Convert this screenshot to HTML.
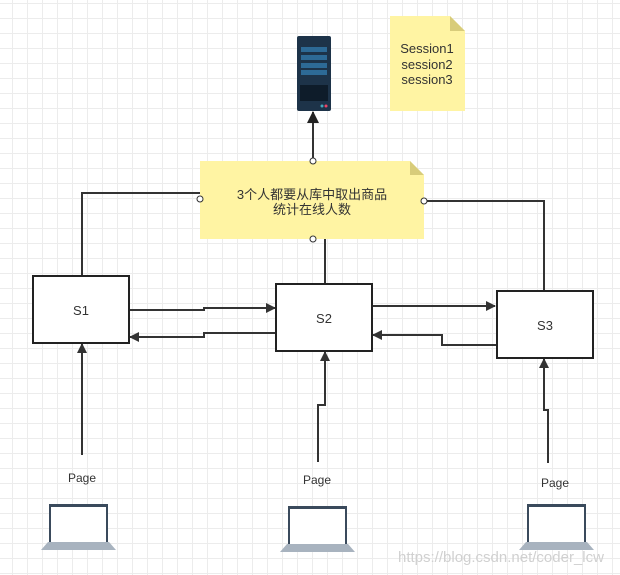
<!DOCTYPE html><html><head><meta charset="utf-8"><style>
body{margin:0;width:620px;height:575px;overflow:hidden;background:#fff;
background-image:linear-gradient(#ececec 1px,transparent 1px),linear-gradient(90deg,#ececec 1px,transparent 1px);background-size:15px 15px;background-position:-3px 3px;}
svg{position:absolute;left:0;top:0}
text{font-family:"Liberation Sans","Noto Sans CJK SC",sans-serif;fill:#333}
</style></head><body>
<svg width="620" height="575" viewBox="0 0 620 575">
<defs><marker id="a" markerWidth="10" markerHeight="10" refX="9" refY="5" orient="auto" markerUnits="userSpaceOnUse"><path d="M0,0L10,5L0,10z" fill="#333"/></marker>
<marker id="b" markerWidth="12" markerHeight="12" refX="11" refY="6" orient="auto" markerUnits="userSpaceOnUse"><path d="M0,0L12,6L0,12z" fill="#222"/></marker></defs>
<g stroke="#333" stroke-width="2" fill="none">
<path d="M313,161V112" marker-end="url(#b)"/>
<path d="M200,193H82V276"/>
<path d="M424,201H544V291"/>
<path d="M325,239V284"/>
<path d="M129,310H204V308H275" marker-end="url(#a)"/>
<path d="M276,333H204V337H130" marker-end="url(#a)"/>
<path d="M372,306H495" marker-end="url(#a)"/>
<path d="M497,345H442V335H373" marker-end="url(#a)"/>
<path d="M82,455V344" marker-end="url(#a)"/>
<path d="M318,462V405H325V352" marker-end="url(#a)"/>
<path d="M548,463V410H544V359" marker-end="url(#a)"/>
</g>
<g fill="#fff" stroke="#222" stroke-width="2">
<rect x="33" y="276" width="96" height="67"/><rect x="276" y="284" width="96" height="67"/><rect x="497" y="291" width="96" height="67"/></g>
<text x="81" y="315" font-size="13" text-anchor="middle">S1</text>
<text x="324" y="323" font-size="13" text-anchor="middle">S2</text>
<text x="545" y="330" font-size="13" text-anchor="middle">S3</text>
<path d="M390,16H450L465,31V111H390z" fill="#fff4a3"/><path d="M450,16V31H465z" fill="#d8cc7a"/>
<text font-size="13" text-anchor="middle"><tspan x="427" y="53">Session1</tspan><tspan x="427" y="69">session2</tspan><tspan x="427" y="84">session3</tspan></text>
<path d="M200,161H410L424,175V239H200z" fill="#fff4a3"/><path d="M410,161V175H424z" fill="#d8cc7a"/>
<text font-size="13" text-anchor="middle"><tspan x="312" y="199">3个人都要从库中取出商品</tspan><tspan x="312" y="214">统计在线人数</tspan></text>
<g fill="#fff" stroke="#333" stroke-width="1"><circle cx="313" cy="161" r="3"/><circle cx="200" cy="199" r="3"/><circle cx="424" cy="201" r="3"/><circle cx="313" cy="239" r="3"/></g>
<rect x="297" y="36" width="34" height="75" rx="2" fill="#1d3349"/>
<g fill="#2d6a96"><rect x="301" y="47" width="26" height="5"/><rect x="301" y="55" width="26" height="5"/><rect x="301" y="63" width="26" height="5"/><rect x="301" y="70" width="26" height="5"/></g>
<rect x="300" y="85" width="28" height="16" fill="#0e1c2a"/>
<circle cx="322" cy="106" r="1.5" fill="#4ab"/><circle cx="326" cy="106" r="1.5" fill="#e46"/>
<text x="82" y="482" font-size="12" text-anchor="middle">Page</text>
<text x="317" y="484" font-size="12" text-anchor="middle">Page</text>
<text x="555" y="487" font-size="12" text-anchor="middle">Page</text>
<g id="l"><rect x="50" y="505" width="57" height="38" fill="#fff" stroke="#3a4a5c" stroke-width="2"/><rect x="50" y="504" width="57" height="3" fill="#3a4a5c"/><path d="M48,542H109L116,550H41z" fill="#a8b3bf"/></g>
<use href="#l" x="239" y="2"/><use href="#l" x="478" y="0"/>
<text x="398" y="562" font-size="15" fill="#ccc" style="fill:#d0d0d0">https://blog.csdn.net/coder_lcw</text>
</svg></body></html>
